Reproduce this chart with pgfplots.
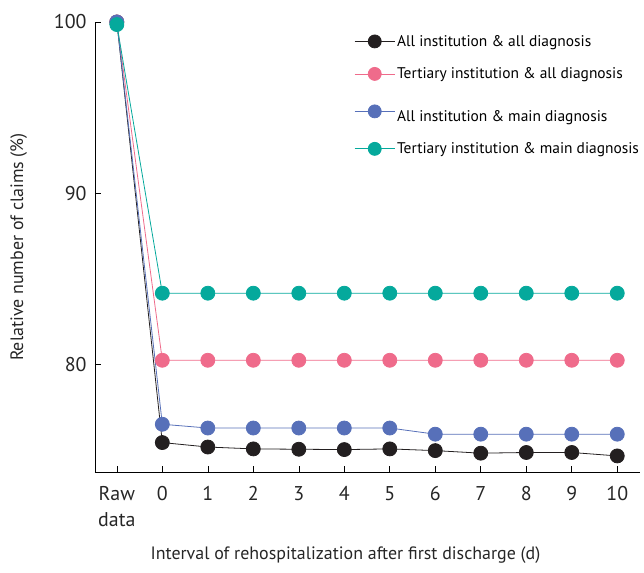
\documentclass[border=0pt]{standalone}
\usepackage{pgfplots}
\pgfplotsset{compat=1.18}
\usepackage{fontspec}
\setmainfont{PT Sans}

\definecolor{cBlack}{HTML}{231F20}
\definecolor{cPink}{HTML}{EF6B8B}
\definecolor{cBlue}{HTML}{5770B9}
\definecolor{cTeal}{HTML}{05A99C}

\begin{document}
\begin{tikzpicture}
\begin{axis}[
    scale only axis,
    width=545bp, height=450bp,
    xmin=-0.48, xmax=11.5,
    ymin=73.7, ymax=100,
    clip=false,
    axis x line=bottom, axis y line=left,
    axis line style={-, black, line width=0.8pt},
    tick align=inside,
    major tick length=6bp,
    tick style={black, line width=0.6pt},
    xtick={0,...,11},
    xticklabels={Raw\\data,0,1,2,3,4,5,6,7,8,9,10},
    xticklabel style={align=center, anchor=north, yshift=-11bp,
        font=\fontsize{20}{26}\selectfont},
    ytick={80,90,100},
    yticklabel style={xshift=-5bp},
    /pgf/number format/assume math mode=true,
    tick label style={font=\fontsize{20}{23}\selectfont, text=black!85},
    xlabel={Interval of rehospitalization after first discharge (d)},
    ylabel={Relative number of claims (\%)},
    label style={font=\fontsize{18}{20}\selectfont, text=black!85},
    xlabel style={xshift=-22bp, yshift=-13bp},
    ylabel style={yshift=20bp},
    every axis plot/.append style={line width=0.8pt, mark=*, mark size=7bp},
    legend style={at={(0.47,0.98)}, anchor=north west, draw=none, fill=none,
        font=\fontsize{15.5}{18}\selectfont, row sep=16bp,
        /tikz/every even column/.append style={column sep=8bp}},
    legend cell align=left,
    legend image code/.code={
        \draw[mark=none] (0bp,0bp) -- (40bp,0bp);
        \draw[only marks, mark=*, mark size=6.5bp] plot coordinates {(20bp,0bp)};},
]
\addplot[color=cBlack, mark options={fill=cBlack}] coordinates {
 (0,100) (1,75.42) (2,75.16) (3,75.05) (4,75.03) (5,75.01) (6,75.05)
 (7,74.95) (8,74.80) (9,74.84) (10,74.84) (11,74.64)};
\addlegendentry{All institution \& all diagnosis}
\addplot[color=cPink, mark options={fill=cPink}] coordinates {
 (0,100) (1,80.23) (2,80.23) (3,80.23) (4,80.23) (5,80.23) (6,80.23)
 (7,80.23) (8,80.23) (9,80.23) (10,80.23) (11,80.23)};
\addlegendentry{Tertiary institution \& all diagnosis}
\addplot[color=cBlue, mark options={fill=cBlue}] coordinates {
 (0,100) (1,76.49) (2,76.27) (3,76.27) (4,76.27) (5,76.27) (6,76.27)
 (7,75.91) (8,75.91) (9,75.91) (10,75.91) (11,75.91)};
\addlegendentry{\raisebox{0pt}[\dimexpr\height+10bp][\depth]{All institution \& main diagnosis}}
\addplot[color=cTeal, mark options={fill=cTeal}] coordinates {
 (0,99.85) (1,84.15) (2,84.15) (3,84.15) (4,84.15) (5,84.15) (6,84.15)
 (7,84.15) (8,84.15) (9,84.15) (10,84.15) (11,84.15)};
\addlegendentry{Tertiary institution \& main diagnosis}
\end{axis}
\path[use as bounding box] (current axis.south west) ++(-95bp,-101bp) rectangle ++(644bp,573bp);
\end{tikzpicture}
\end{document}
